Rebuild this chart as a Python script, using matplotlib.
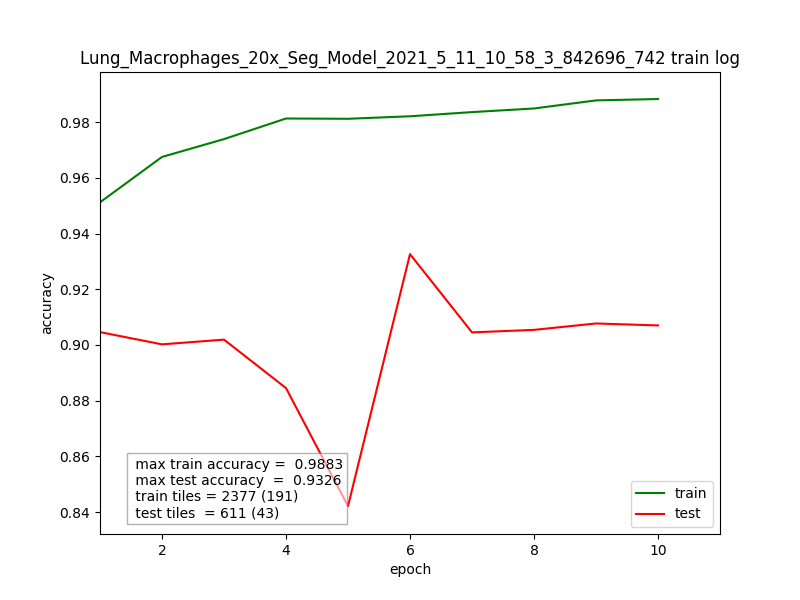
import matplotlib
matplotlib.use("Agg")
import matplotlib.pyplot as plt

epochs = [1, 2, 3, 4, 5, 6, 7, 8, 9, 10]
train_acc = [0.9512, 0.9675, 0.9739, 0.9813, 0.9812, 0.9821, 0.9836, 0.9849, 0.9878, 0.9883]
test_acc = [0.9046, 0.9002, 0.9019, 0.8845, 0.8421, 0.9326, 0.9045, 0.9054, 0.9077, 0.9070]
title = "Lung_Macrophages_20x_Seg_Model_2021_5_11_10_58_3_842696_742 train log"
info = (" max train accuracy =  0.9883\n"
        " max test accuracy  =  0.9326\n"
        " train tiles = 2377 (191)\n"
        " test tiles  = 611 (43)")

fig, ax = plt.subplots(figsize=(8, 6), dpi=100)
ax.plot(epochs, train_acc, color="green", label="train")
ax.plot(epochs, test_acc, color="red", label="test")
ax.set_xlim(1, 11)
ax.set_ylim(0.8321, 0.998)
ax.set_xlabel("epoch")
ax.set_ylabel("accuracy")
ax.set_title(title)
ax.legend(loc="lower right")
ax.text(0.05, 0.03, info, transform=ax.transAxes, va="bottom", ha="left",
        bbox=dict(facecolor="white", edgecolor="gray", alpha=0.6, boxstyle="square"))
fig.savefig("out.png")
